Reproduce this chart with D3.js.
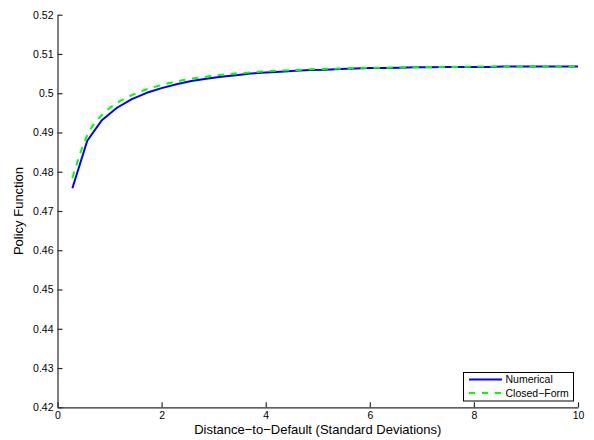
<!DOCTYPE html>
<html>
<head>
<meta charset="utf-8">
<script src="https://cdn.jsdelivr.net/npm/d3@7"></script>
<style>
  html, body { margin: 0; padding: 0; background: #fff; }
  svg { display: block; font-family: "Liberation Sans", Arial, Helvetica, sans-serif; }
</style>
</head>
<body>
<svg id="chart" width="594" height="440"></svg>
<script>
// Distance-to-default grid (standard deviations)
const distance = [0.2857, 0.5714, 0.8571, 1.1429, 1.4286, 1.7143, 2.0, 2.2857, 2.5714, 2.8571,
  3.1429, 3.4286, 3.7143, 4.0, 4.2857, 4.5714, 4.8571, 5.1429, 5.4286, 5.7143,
  6.0, 6.2857, 6.5714, 6.8571, 7.1429, 7.4286, 7.7143, 8.0, 8.2857, 8.5714,
  8.8571, 9.1429, 9.4286, 9.7143, 10.0];

// Policy function solved numerically on the grid
const numerical = [0.4758, 0.4879, 0.4932, 0.4963, 0.4985, 0.5001, 0.5013, 0.5023, 0.5031, 0.5037,
  0.5042, 0.5046, 0.5050, 0.5053, 0.5055, 0.5057, 0.5059, 0.5060, 0.5062, 0.5063,
  0.5064, 0.5064, 0.5065, 0.5066, 0.5066, 0.5067, 0.5067, 0.5067, 0.5067, 0.5068,
  0.5068, 0.5068, 0.5068, 0.5068, 0.5068];

// Closed-form approximation of the policy function
const closedForm = [0.4784, 0.4893, 0.4945, 0.4975, 0.4995, 0.5010, 0.5021, 0.5030, 0.5037, 0.5042,
  0.5047, 0.5050, 0.5053, 0.5056, 0.5058, 0.5059, 0.5061, 0.5062, 0.5063, 0.5064,
  0.5065, 0.5065, 0.5066, 0.5066, 0.5067, 0.5067, 0.5067, 0.5068, 0.5068, 0.5068,
  0.5068, 0.5068, 0.5068, 0.5068, 0.5068];

const xTicks = [0, 2, 4, 6, 8, 10];
const yTicks = [0.42, 0.43, 0.44, 0.45, 0.46, 0.47, 0.48, 0.49, 0.50, 0.51, 0.52];
const yTickLabels = ["0.42", "0.43", "0.44", "0.45", "0.46", "0.47", "0.48", "0.49", "0.5", "0.51", "0.52"];

const seriesNames = ["Numerical", "Closed\u2212Form"];
const xLabel = "Distance\u2212to\u2212Default (Standard Deviations)";
const yLabel = "Policy Function";

const svg = d3.select("#chart");
const plotLeft = 57.5, plotRight = 578, plotTop = 14.7, plotBottom = 407.3;

const x = d3.scaleLinear().domain([0, 10]).range([plotLeft, plotRight]);
const y = d3.scaleLinear().domain([0.42, 0.52]).range([plotBottom, plotTop]);

const axisColor = "#2a2a2a";

// Axes (ticks point inward)
const gx = svg.append("g")
  .attr("transform", `translate(0,${plotBottom})`)
  .call(d3.axisBottom(x).tickValues(xTicks).tickFormat(d3.format("d"))
    .tickSizeInner(-5).tickSizeOuter(0).tickPadding(4));
const gy = svg.append("g")
  .attr("transform", `translate(${plotLeft},0)`)
  .call(d3.axisLeft(y).tickValues(yTicks).tickFormat((d, i) => yTickLabels[i])
    .tickSizeInner(-5).tickSizeOuter(0).tickPadding(4));

[gx, gy].forEach(g => {
  g.select(".domain").attr("stroke", axisColor).attr("stroke-width", 1.2);
  g.selectAll(".tick line").attr("stroke", axisColor).attr("stroke-width", 1.2);
  g.selectAll(".tick text").attr("fill", "#000").style("font-size", "10.5px")
    .style("font-family", "'Liberation Sans', Arial, Helvetica, sans-serif");
});

// Axis titles
svg.append("text")
  .attr("x", (plotLeft + plotRight) / 2).attr("y", 434)
  .attr("text-anchor", "middle")
  .style("font-size", "13px")
  .text(xLabel);
svg.append("text")
  .attr("transform", `translate(22.5,${(plotTop + plotBottom) / 2}) rotate(-90)`)
  .attr("text-anchor", "middle")
  .style("font-size", "13px")
  .text(yLabel);

// Curves
const numLine = d3.line().x((d, i) => x(distance[i])).y(d => y(d));
const cfLine = d3.line().x((d, i) => x(distance[i])).y(d => y(d)).curve(d3.curveMonotoneX);

svg.append("path")
  .attr("d", numLine(numerical))
  .attr("fill", "none").attr("stroke", "#0000ff").attr("stroke-width", 2)
  .attr("stroke-linejoin", "round");
svg.append("path")
  .attr("d", cfLine(closedForm))
  .attr("fill", "none").attr("stroke", "#00ff00").attr("stroke-width", 2)
  .attr("stroke-dasharray", "6.5,6.5");

// Legend
const lg = svg.append("g");
lg.append("rect")
  .attr("x", 463.5).attr("y", 372.5).attr("width", 110).attr("height", 28.5)
  .attr("fill", "#fff").attr("stroke", "#000").attr("stroke-width", 1);
const entries = [
  { name: seriesNames[0], color: "#0000ff", dash: null, yy: 379.5 },
  { name: seriesNames[1], color: "#00ff00", dash: "6,7", yy: 393 }
];
entries.forEach(e => {
  lg.append("line")
    .attr("x1", 469).attr("x2", 502).attr("y1", e.yy).attr("y2", e.yy)
    .attr("stroke", e.color).attr("stroke-width", 2)
    .attr("stroke-dasharray", e.dash);
  lg.append("text")
    .attr("x", 505.5).attr("y", e.yy).attr("dy", "0.35em")
    .style("font-size", "10.5px")
    .text(e.name);
});
</script>
</body>
</html>
